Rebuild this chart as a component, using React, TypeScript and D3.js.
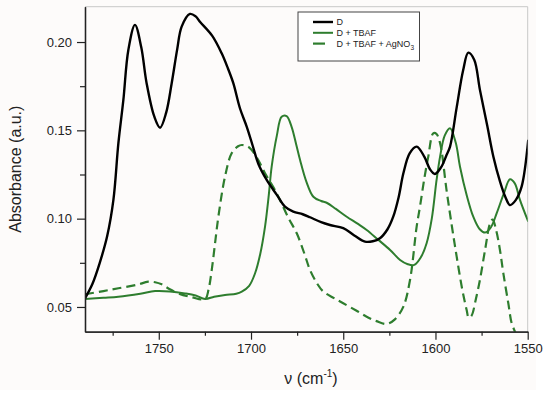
import React, { useEffect, useRef } from 'react';
import * as d3 from 'd3';

// IR absorbance spectra, wavenumber (cm-1) vs absorbance (a.u.)
const dWave = [1790, 1786, 1782, 1778, 1774.6, 1771.9, 1769.2, 1766.5, 1762.9, 1759.5, 1756.6, 1752.5, 1749.3, 1746, 1743, 1740, 1737.6, 1733.1, 1730, 1727.7, 1721, 1715.9, 1712.5, 1709.6, 1706, 1702.3, 1699, 1696, 1691.5, 1686, 1681.6, 1677.1, 1672, 1668, 1662, 1657.2, 1650, 1644, 1638.2, 1634, 1630.1, 1626, 1622.9, 1620, 1617.4, 1614, 1610.2, 1606, 1603, 1600.3, 1597, 1594, 1592.1, 1588.5, 1585, 1582.2, 1579, 1575.9, 1572, 1568.6, 1565, 1562, 1559.6, 1556.5, 1553.3, 1549.7];
const dAbs = [0.0549, 0.063, 0.075, 0.09, 0.1106, 0.1427, 0.1672, 0.1955, 0.2097, 0.197, 0.1767, 0.158, 0.1515, 0.16, 0.1767, 0.196, 0.2087, 0.2159, 0.2145, 0.2115, 0.2035, 0.1936, 0.185, 0.1767, 0.1625, 0.152, 0.141, 0.1309, 0.1219, 0.1135, 0.1068, 0.104, 0.1025, 0.1008, 0.098, 0.0964, 0.0946, 0.0905, 0.087, 0.0872, 0.0889, 0.094, 0.1011, 0.112, 0.1257, 0.137, 0.1408, 0.135, 0.128, 0.1253, 0.129, 0.136, 0.1408, 0.163, 0.184, 0.194, 0.19, 0.1729, 0.153, 0.1351, 0.121, 0.112, 0.1077, 0.1105, 0.1181, 0.1446];

const tbafWave = [1790, 1780, 1771.9, 1760, 1752, 1744, 1735.8, 1730, 1724.9, 1720, 1714.1, 1708, 1705, 1701, 1697.8, 1695, 1692.4, 1690.5, 1688.8, 1686, 1683.4, 1680.7, 1678, 1675.5, 1673.4, 1670, 1666.2, 1662, 1659, 1654, 1648.1, 1642, 1637.3, 1631, 1624.6, 1619.2, 1615, 1611.5, 1608, 1604.8, 1602, 1599.4, 1597.5, 1595, 1592.1, 1589, 1586.7, 1583, 1579.5, 1576, 1573.1, 1570, 1566.8, 1563, 1559.6, 1557, 1554.2, 1549.7];
const tbafAbs = [0.0545, 0.0552, 0.0558, 0.0575, 0.059, 0.0588, 0.0577, 0.0565, 0.0545, 0.0558, 0.0568, 0.0575, 0.0587, 0.062, 0.0691, 0.08, 0.0955, 0.112, 0.1294, 0.147, 0.1577, 0.1581, 0.152, 0.142, 0.1332, 0.121, 0.1124, 0.11, 0.109, 0.1055, 0.1011, 0.097, 0.0936, 0.088, 0.0823, 0.0766, 0.0742, 0.0738, 0.078, 0.0861, 0.1, 0.1219, 0.1351, 0.147, 0.1512, 0.143, 0.1294, 0.113, 0.1011, 0.094, 0.0921, 0.095, 0.1031, 0.114, 0.1223, 0.12, 0.1106, 0.0983];

const agWave = [1790, 1780, 1771.9, 1762, 1755.7, 1752, 1748.4, 1744, 1739.4, 1732, 1724.9, 1723, 1721.3, 1719.5, 1717.7, 1714.1, 1710.5, 1707, 1705, 1702, 1699.6, 1696, 1692.4, 1688, 1684.3, 1680, 1675.2, 1671, 1668, 1664, 1660.8, 1655, 1650, 1643, 1637.3, 1632, 1626.4, 1622, 1617.4, 1613.8, 1610.2, 1608.4, 1606, 1603.9, 1601.2, 1599.5, 1597.5, 1594, 1591, 1588.5, 1585.5, 1583.1, 1582, 1580.5, 1578, 1575.9, 1573, 1570.4, 1569, 1567, 1565, 1563.2, 1560.5, 1558.7, 1556.9, 1555];
const agAbs = [0.0572, 0.059, 0.0606, 0.0625, 0.0643, 0.064, 0.0628, 0.06, 0.0577, 0.0555, 0.0545, 0.06, 0.0709, 0.086, 0.1011, 0.1238, 0.137, 0.141, 0.1417, 0.141, 0.1389, 0.133, 0.1257, 0.118, 0.1106, 0.101, 0.0917, 0.08, 0.0709, 0.063, 0.0587, 0.055, 0.0521, 0.048, 0.0445, 0.042, 0.0404, 0.043, 0.0502, 0.0653, 0.0955, 0.1068, 0.123, 0.1351, 0.1483, 0.148, 0.1427, 0.1162, 0.095, 0.0785, 0.06, 0.0483, 0.044, 0.045, 0.055, 0.0653, 0.083, 0.0974, 0.0995, 0.093, 0.082, 0.069, 0.052, 0.0408, 0.036, 0.03];

const xTicksMajor = [1750, 1700, 1650, 1600, 1550];
const xTicksMinor = [1775, 1725, 1675, 1625, 1575];
const yTicksMajor = [0.05, 0.10, 0.15, 0.20];
const yTicksMinor = [0.075, 0.125, 0.175];

const GREEN = '#2e7d2e';
const FONT = '"Liberation Sans", Arial, sans-serif';

export default function App() {
  const ref = useRef<SVGSVGElement>(null);

  useEffect(() => {
    const svgEl = ref.current;
    if (!svgEl) return;
    const svg = d3.select(svgEl);
    svg.selectAll('*').remove();

    const width = 550, height = 396;
    const margin = {top: 6.7, right: 22.3, bottom: 64.3, left: 85};
    const innerW = width - margin.left - margin.right;
    const innerH = height - margin.top - margin.bottom;

    svg.append('rect').attr('width', width).attr('height', height).attr('fill', '#fff');
    svg.append('rect').attr('width', 536).attr('height', 390).attr('fill', '#fdfbfa');

    const x = d3.scaleLinear().domain([1790, 1550]).range([0, innerW]);
    const y = d3.scaleLinear().domain([0.036, 0.22]).range([innerH, 0]);

    svg.append('defs').append('clipPath').attr('id', 'plot-clip')
      .append('rect').attr('width', innerW).attr('height', innerH);

    const g = svg.append('g').attr('transform', `translate(${margin.left},${margin.top})`);

    // top / right frame
    g.append('line').attr('x1', 0).attr('x2', innerW).attr('y1', 0).attr('y2', 0).attr('stroke', '#c8c8c8').attr('stroke-width', 1);
    g.append('line').attr('x1', innerW).attr('x2', innerW).attr('y1', 0).attr('y2', innerH).attr('stroke', '#c8c8c8').attr('stroke-width', 1);

    const line = d3.line<[number, number]>().x(d => x(d[0])).y(d => y(d[1])).curve(d3.curveCatmullRom.alpha(0.5));
    const pts = (w: number[], a: number[]) => w.map((v, i) => [v, a[i]] as [number, number]);

    const plot = g.append('g').attr('clip-path', 'url(#plot-clip)');
    plot.append('path').datum(pts(agWave, agAbs)).attr('fill', 'none').attr('stroke', GREEN)
      .attr('stroke-width', 2.2).attr('stroke-dasharray', '9,5').attr('d', line);
    plot.append('path').datum(pts(tbafWave, tbafAbs)).attr('fill', 'none').attr('stroke', GREEN)
      .attr('stroke-width', 2).attr('d', line);
    plot.append('path').datum(pts(dWave, dAbs)).attr('fill', 'none').attr('stroke', '#000')
      .attr('stroke-width', 2.4).attr('d', line);

    // x axis
    const xAxis = g.append('g').attr('transform', `translate(0,${innerH})`);
    xAxis.append('g').call(d3.axisBottom(x).tickValues(xTicksMajor).tickSize(8).tickSizeOuter(0).tickPadding(4).tickFormat(d3.format('d')));
    xAxis.append('g').call(d3.axisBottom(x).tickValues(xTicksMinor).tickSize(4).tickSizeOuter(0).tickFormat(() => ''));
    xAxis.selectAll('text').attr('font-family', FONT).attr('font-size', 13).attr('fill', '#222');
    xAxis.selectAll('path.domain').attr('stroke', '#222').attr('stroke-width', 1.3);
    xAxis.selectAll('line').attr('stroke', '#222').attr('stroke-width', 1.2);

    // y axis
    const yAxis = g.append('g');
    yAxis.append('g').call(d3.axisLeft(y).tickValues(yTicksMajor).tickSize(8).tickSizeOuter(0).tickPadding(5).tickFormat(d3.format('.2f')));
    yAxis.append('g').call(d3.axisLeft(y).tickValues(yTicksMinor).tickSize(5).tickSizeOuter(0).tickFormat(() => ''));
    yAxis.selectAll('text').attr('font-family', FONT).attr('font-size', 13).attr('fill', '#222');
    yAxis.selectAll('path.domain').attr('stroke', '#222').attr('stroke-width', 1.3);
    yAxis.selectAll('line').attr('stroke', '#222').attr('stroke-width', 1.2);

    // axis titles
    svg.append('text').attr('transform', 'rotate(-90)').attr('x', -(margin.top + innerH / 2)).attr('y', 21)
      .attr('text-anchor', 'middle').attr('font-family', FONT).attr('font-size', 16).attr('fill', '#222')
      .text('Absorbance (a.u.)');
    const xt = svg.append('text').attr('x', 311).attr('y', 384).attr('text-anchor', 'middle')
      .attr('font-family', FONT).attr('font-size', 16).attr('fill', '#222');
    xt.append('tspan').text('ν (cm');
    xt.append('tspan').attr('font-size', 10).attr('dy', -7).text('-1');
    xt.append('tspan').attr('dy', 7).text(')');

    // legend
    const lg = svg.append('g').attr('transform', 'translate(298,12)');
    lg.append('rect').attr('width', 121.5).attr('height', 49).attr('fill', '#fff').attr('stroke', '#444').attr('stroke-width', 1);
    const entries = [
      {label: 'D', color: '#000', dash: null as string | null, w: 2.4},
      {label: 'D + TBAF', color: GREEN, dash: null, w: 2},
      {label: 'D + TBAF + AgNO', color: GREEN, dash: '12,20', w: 2.2}
    ];
    entries.forEach((e, i) => {
      const cy = 10 + i * 10.8;
      const l = lg.append('line').attr('x1', 15).attr('x2', 35).attr('y1', cy).attr('y2', cy)
        .attr('stroke', e.color).attr('stroke-width', e.w);
      if (e.dash) l.attr('stroke-dasharray', e.dash);
      const t = lg.append('text').attr('x', 38.5).attr('y', cy + 3.3).attr('font-family', FONT)
        .attr('font-size', 9).attr('fill', '#222').text(e.label);
      if (i === 2) t.append('tspan').attr('font-size', 6.5).attr('dy', 3).text('3');
    });
  }, []);

  return (
    <svg ref={ref} width={550} height={396} style={{position: 'absolute', left: 0, top: 0}} />
  );
}
